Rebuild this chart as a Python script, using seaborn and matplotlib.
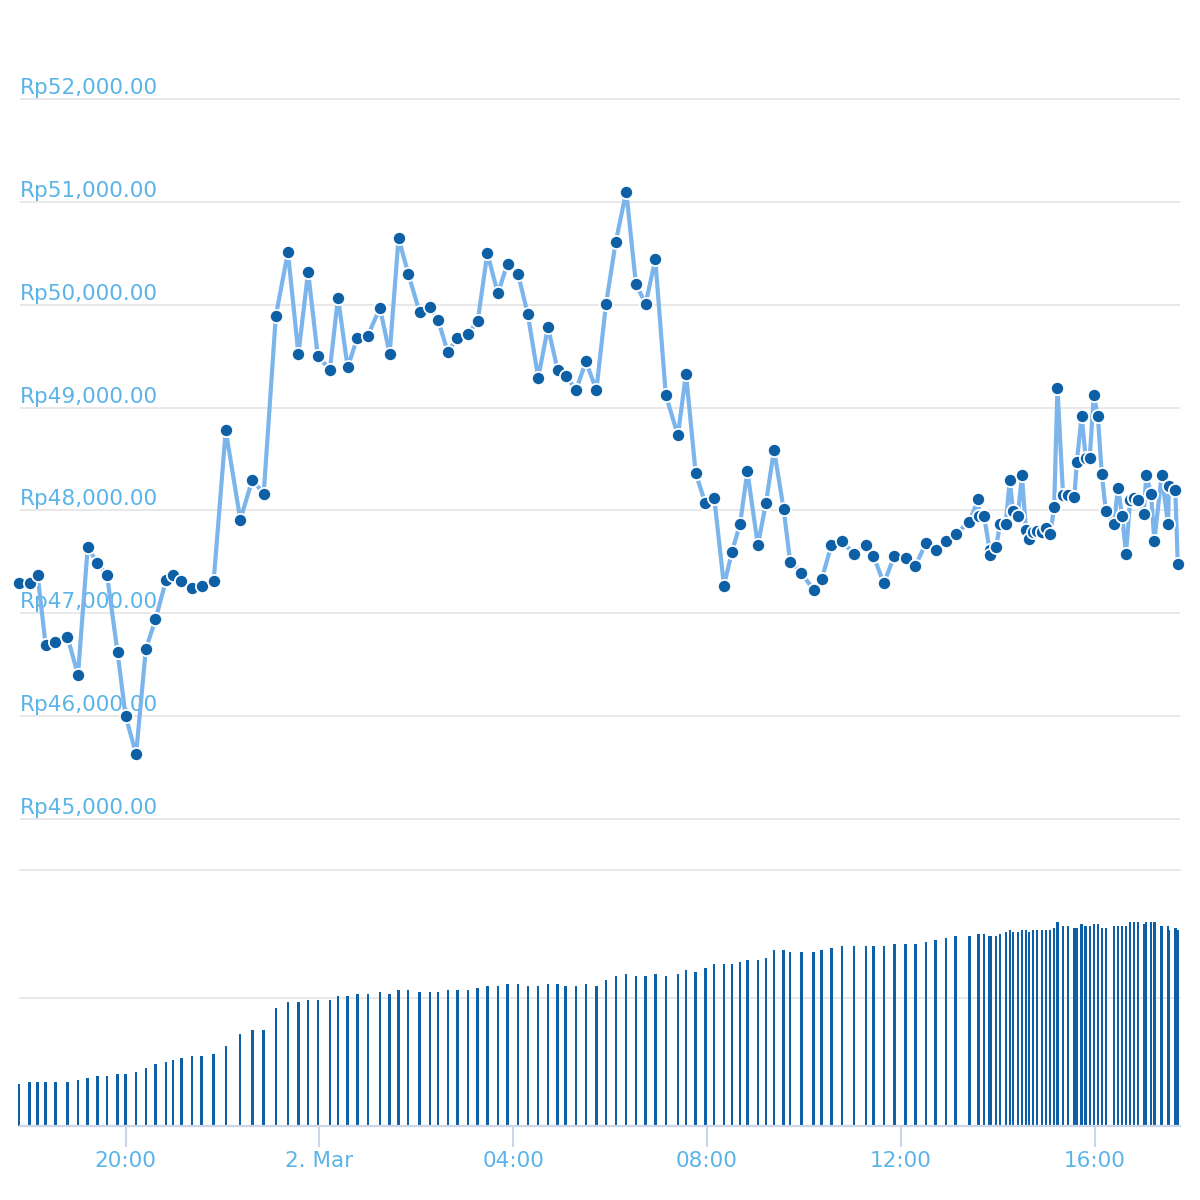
import numpy as np
import pandas as pd
import matplotlib
matplotlib.use("Agg")
import matplotlib.pyplot as plt
import matplotlib.dates as mdates
import matplotlib.transforms as mtransforms
from matplotlib.ticker import FuncFormatter
import seaborn as sns

# ---------------- data ----------------
START = "2024-03-01 17:48"

minutes = [
    0, 13, 23, 33, 45, 60, 73, 85, 97, 109,
    122, 132, 145, 157, 169, 182, 191, 201, 214, 226,
    241, 256, 274, 289, 303, 318, 333, 346, 358, 370,
    385, 395, 407, 419, 432, 447, 459, 470, 482, 496,
    509, 519, 531, 543, 556, 568, 580, 593, 605, 618,
    630, 643, 655, 667, 677, 690, 702, 715, 727, 739,
    752, 764, 776, 788, 801, 816, 826, 838, 850, 861,
    873, 883, 893, 902, 915, 925, 935, 947, 955, 969,
    984, 994, 1006, 1019, 1034, 1049, 1058, 1071, 1084, 1098,
    1110, 1123, 1135, 1148, 1160, 1177, 1188, 1189, 1195, 1202,
    1203, 1210, 1215, 1222, 1227, 1231, 1237, 1242, 1247, 1251,
    1256, 1261, 1267, 1272, 1277, 1282, 1286, 1293, 1299, 1307,
    1310, 1316, 1321, 1326, 1331, 1336, 1341, 1346, 1356, 1361,
    1366, 1371, 1376, 1381, 1386, 1393, 1396, 1402, 1406, 1415,
    1423, 1424, 1432, 1435,
]

price = [
    47290, 47290, 47370, 46690, 46720, 46770, 46400, 47640, 47490, 47370,
    46620, 46000, 45630, 46650, 46940, 47320, 47370, 47310, 47250, 47270,
    47310, 48780, 47910, 48300, 48160, 49890, 50510, 49520, 50320, 49500,
    49370, 50070, 49390, 49680, 49700, 49970, 49520, 50650, 50300, 49930,
    49980, 49850, 49540, 49680, 49720, 49840, 50500, 50110, 50400, 50300,
    49910, 49290, 49780, 49370, 49310, 49170, 49450, 49170, 50010, 50610,
    51100, 50200, 50010, 50440, 49120, 48730, 49330, 48360, 48070, 48120,
    47270, 47600, 47870, 48380, 47660, 48070, 48590, 48010, 47500, 47390,
    47230, 47330, 47660, 47700, 47580, 47660, 47560, 47290, 47560, 47540,
    47460, 47680, 47620, 47700, 47770, 47890, 48110, 47950, 47950, 47620,
    47570, 47640, 47870, 47870, 48300, 47990, 47950, 48340, 47810, 47720,
    47790, 47800, 47790, 47830, 47770, 48030, 49190, 48150, 48150, 48130,
    48470, 48920, 48510, 48510, 49120, 48920, 48350, 47990, 47870, 48220,
    47950, 47580, 48100, 48120, 48100, 47970, 48340, 48160, 47700, 48340,
    47870, 48240, 48200, 47480,
]

volume = [
    32.8, 34.4, 34.4, 34.4, 34.4, 34.4, 35.9, 37.5, 39.1, 39.1,
    40.6, 40.6, 42.2, 45.3, 48.4, 50.0, 51.6, 53.1, 54.7, 54.7,
    56.3, 62.5, 71.9, 75.0, 75.0, 92.2, 96.9, 96.9, 98.4, 98.4,
    98.4, 101.6, 101.6, 103.1, 103.1, 104.7, 103.1, 106.3, 106.3, 104.7,
    104.7, 104.7, 106.3, 106.3, 106.3, 107.8, 109.4, 109.4, 110.9, 110.9,
    109.4, 109.4, 110.9, 110.9, 109.4, 109.4, 110.9, 109.4, 114.1, 117.2,
    118.8, 117.2, 117.2, 118.8, 117.2, 118.8, 121.9, 120.3, 123.4, 126.6,
    126.6, 126.6, 128.1, 129.7, 129.7, 131.3, 137.5, 137.5, 135.9, 135.9,
    135.9, 137.5, 139.1, 140.6, 140.6, 140.6, 140.6, 140.6, 142.2, 142.2,
    142.2, 143.8, 145.3, 146.9, 148.4, 148.4, 150.0, 150.0, 150.0, 148.4,
    148.4, 148.4, 150.0, 151.6, 153.1, 151.6, 151.6, 153.1, 153.1, 151.6,
    153.1, 153.1, 153.1, 153.1, 153.1, 154.7, 159.4, 156.3, 156.3, 154.7,
    154.7, 157.8, 156.3, 156.3, 157.8, 157.8, 154.7, 154.7, 156.3, 156.3,
    156.3, 156.3, 159.4, 159.4, 159.4, 157.8, 159.4, 159.4, 159.4, 156.3,
    156.3, 153.1, 154.7, 153.1,
]

price_ticks = [45000, 46000, 47000, 48000, 49000, 50000, 51000, 52000]
volume_ticks = [0, 100, 200]
tick_hours = [0, 4, 8, 12, 16, 20]

# ---------------- style ----------------
sns.set_theme(style="white")
plt.rcParams["font.family"] = ["DejaVu Sans"]

LINE_C = "#7cb5ec"
MARK_C = "#0d5fa6"
LABEL_C = "#5ab4e8"
GRID_C = "#e6e6e6"
AXIS_C = "#ccd6eb"

t0 = pd.Timestamp(START)
times = t0 + pd.to_timedelta(minutes, unit="min")
df = pd.DataFrame({"time": times, "price": price, "volume": volume})

W, H = 1200, 1200
fig = plt.figure(figsize=(12, 12), dpi=100)
fig.patch.set_facecolor("white")

# price pane: 60px .. 840px from top
ax = fig.add_axes([20 / W, 1 - 840 / H, 1160 / W, 780 / H])
# volume pane: 870px .. 1126px from top
axv = fig.add_axes([20 / W, 1 - 1126 / H, 1160 / W, 256 / H])

x_left = t0 + pd.Timedelta(minutes=1.2)
x_right = t0 + pd.Timedelta(minutes=1437.8)

# ---------- price ----------
upp = 7000 / 720.0  # price units per pixel
ax.set_ylim(45000 - 21 * upp, 52000 + 39 * upp)
ax.set_yticks(price_ticks)
ax.set_yticklabels([])
ax.tick_params(axis="y", length=0)
ax.grid(axis="y", color=GRID_C, linewidth=1.3, zorder=0)
ax.grid(axis="x", visible=False)
for s in ax.spines.values():
    s.set_visible(False)

sns.lineplot(
    data=df, x="time", y="price", ax=ax,
    color=LINE_C, linewidth=3.0, marker="o", markersize=9.5,
    markerfacecolor=MARK_C, markeredgecolor="white", markeredgewidth=1.3,
    clip_on=False, zorder=4, legend=False,
)
ax.set_xlim(x_left, x_right)
ax.set_xticks([])
ax.set_xlabel("")
ax.set_ylabel("")

trans = mtransforms.blended_transform_factory(ax.transAxes, ax.transData)
trans = mtransforms.offset_copy(trans, fig=fig, x=0, y=5, units="dots")
for v in price_ticks:
    ax.text(0, v, f"Rp{v:,.2f}", transform=trans, ha="left", va="baseline",
            fontsize=15.5, color=LABEL_C, zorder=1)

# ---------- volume ----------
bars = axv.bar(df["time"], df["volume"], width=3.0 / 1440.0, color=MARK_C,
               linewidth=0, align="center", zorder=2, antialiased=False)
for b in bars:
    b.set_clip_on(False)
axv.set_xlim(x_left, x_right)
axv.set_ylim(0, 200)
axv.set_yticks(volume_ticks)
axv.set_yticklabels([])
axv.tick_params(axis="y", length=0)
axv.grid(axis="y", color=GRID_C, linewidth=1.3, zorder=0)
for gl in axv.get_ygridlines():
    gl.set_clip_on(False)
axv.grid(axis="x", visible=False)
for name, s in axv.spines.items():
    if name == "bottom":
        s.set_color(AXIS_C)
        s.set_linewidth(1.6)
        s.set_zorder(3)
    else:
        s.set_visible(False)

axv.xaxis.set_major_locator(mdates.HourLocator(byhour=tick_hours))


def fmt(x, pos=None):
    d = mdates.num2date(x)
    if d.hour == 0 and d.minute == 0:
        return f"{d.day}. {d.strftime('%b')}"
    return d.strftime("%H:%M")


axv.xaxis.set_major_formatter(FuncFormatter(fmt))
axv.tick_params(axis="x", bottom=True, direction="out", length=15,
                width=1.5, color=AXIS_C, labelsize=15.5, labelcolor=LABEL_C,
                pad=3)
axv.set_xlabel("")
axv.set_ylabel("")

fig.savefig("out.png", dpi=100, facecolor="white")
